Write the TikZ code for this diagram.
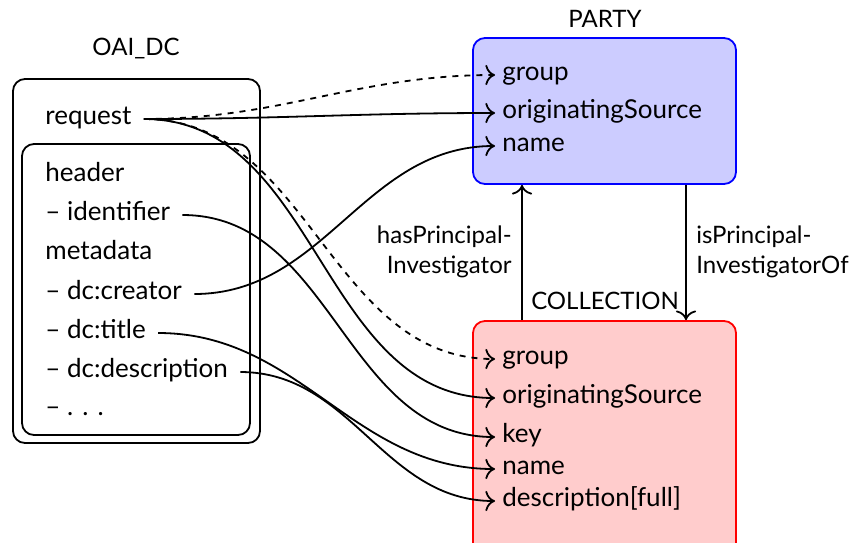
\documentclass[tikz,border=0pt]{standalone}
\usepackage{fontspec}
\setmainfont{Lato}
\usepackage{xcolor}
\usepackage{tikz}
\usetikzlibrary{positioning,calc,arrows.meta}

\begin{document}
\begin{tikzpicture}[x=0.5pt,y=-0.5pt,
    >={To[scale=1.35]},
    font=\fontsize{13}{15.5}\selectfont,
    box/.style={draw, line width=0.9pt, rounded corners=6pt},
    src/.style={anchor=west, inner xsep=6pt, inner ysep=0pt, text height=1.2ex, text depth=0.2ex},
    fld/.style={anchor=west, inner xsep=3.5pt, inner ysep=0pt, text height=1.2ex, text depth=0.2ex},
    title/.style={font=\fontsize{12}{14}\selectfont},
    rellabel/.style={inner sep=0pt, font=\fontsize{12}{15}\selectfont},
    link/.style={->, line width=0.9pt, out=0, in=180},
    rel/.style={->, line width=0.9pt}]
    \useasboundingbox (0,0) rectangle (854,542);

    % OAI_DC record
    \node[title] (oaititle) at (136,49) {OAI\_DC};
    \draw[box] (13,79) rectangle (260,443);
    \draw[box] (22,144) rectangle (250,435);
    \node[src] (request) at (33,119) {request};
    \node[src] (header) at (33,176) {header};
    \node[src] (ident) at (33,215) {-- identifier};
    \node[src] (meta) at (33,254) {metadata};
    \node[src] (creator) at (33,294) {-- dc:creator};
    \node[src] (dctitle) at (33,333) {-- dc:title};
    \node[src] (descr) at (33,372) {-- dc:description};
    \node[src] (dots) at (33,410) {-- .\kern0.35em.\kern0.35em.};

    % PARTY
    \node[title] (partytitle) at (605,19) {PARTY};
    \node[box, draw=blue, fill=blue!20, minimum width=131.5pt, minimum height=73pt] (party) at (604.5,111) {};
    \node[fld] (pgroup) at (495,75) {group};
    \node[fld] (psource) at (495,113) {originatingSource};
    \node[fld] (pname) at (495,146) {name};

    % COLLECTION
    \node[title] (colltitle) at (605,301) {COLLECTION};
    \node[box, draw=red, fill=red!20, minimum width=131.5pt, minimum height=120pt] (coll) at (604.5,441) {};
    \node[fld] (cgroup) at (495,359) {group};
    \node[fld] (csource) at (495,398) {originatingSource};
    \node[fld] (ckey) at (495,437) {key};
    \node[fld] (cname) at (495,469) {name};
    \node[fld] (cdescr) at (495,501) {description[full]};

    % relations between PARTY and COLLECTION
    \coordinate (hasx) at (522,0);
    \coordinate (isx) at (686,0);
    \draw[rel] (coll.north -| hasx) -- (party.south -| hasx);
    \draw[rel] (party.south -| isx) -- (coll.north -| isx);
    \node[rellabel, anchor=east, align=right] (haslabel) at (512,252) {hasPrincipal-\\Investigator};
    \node[rellabel, anchor=west, align=left] (islabel) at (696,252) {isPrincipal-\\InvestigatorOf};

    % mappings
    \draw[link, dashed] (request.east) to (pgroup.west);
    \draw[link] (request.east) to (psource.west);
    \draw[link, dashed] (request.east) to (cgroup.west);
    \draw[link] (request.east) to (csource.west);
    \draw[link] (ident.east) to (ckey.west);
    \draw[link] (creator.east) to (pname.west);
    \draw[link] (dctitle.east) to (cname.west);
    \draw[link] (descr.east) to (cdescr.west);

\end{tikzpicture}
\end{document}
